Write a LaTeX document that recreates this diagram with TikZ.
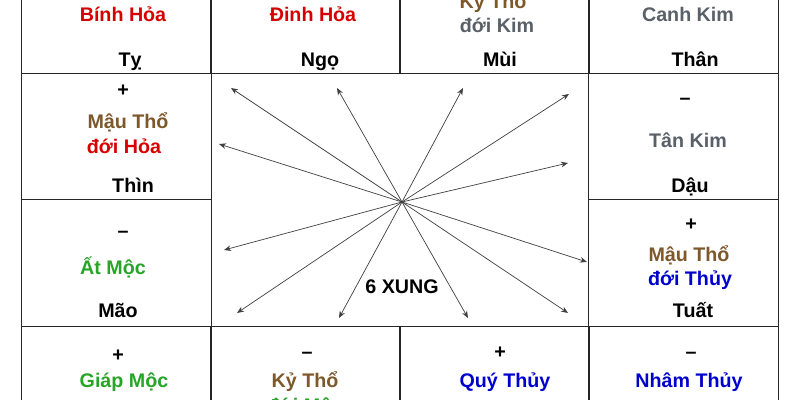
\documentclass[tikz,border=0pt]{standalone}
\usepackage{fontspec}
\setmainfont{Liberation Sans}
\usepackage{xcolor}
\usetikzlibrary{arrows.meta, positioning}
\definecolor{hoa}{RGB}{215,0,0}
\definecolor{tho}{RGB}{125,88,42}
\definecolor{moc}{RGB}{40,165,40}
\definecolor{thuy}{RGB}{0,0,205}
\definecolor{kim}{RGB}{90,96,104}
\tikzset{%
	every cell/.style={
		draw=black!85,
		line width=0.7pt,
		minimum width=4.725cm,
		minimum height=3.1625cm,
		inner sep=0pt
	},
	cell text/.style={
		font=\fontsize{14}{17}\selectfont\bfseries,
		anchor=base,
		inner sep=0pt
	},
	xung arrow/.style={
		draw=black!75,
		line width=0.5pt,
		-{Stealth[length=5pt,width=4pt]}
	},
}

\begin{document}
\begin{tikzpicture}[x=0.025cm, y=-0.025cm]
			\useasboundingbox (0,0) rectangle (800,400);
			\fill[white] (0,0) rectangle (800,400);
			\clip (0,0) rectangle (800,400);
			
			% Top row of cells
			\node[every cell] (ty) at (116.5,10) {};
			\node[every cell] (ngo) at (305.5,10) {};
			\node[every cell] (mui) at (494.5,10) {};
			\node[every cell] (than) at (683.5,10) {};
			% Side cells
			\node[every cell] (thin) at (116.5,136.5) {};
			\node[every cell] (dau) at (683.5,136.5) {};
			\node[every cell] (mao) at (116.5,263) {};
			\node[every cell] (tuat) at (683.5,263) {};
			% Bottom row of cells
			\node[every cell] (dan) at (116.5,389.5) {};
			\node[every cell] (suu) at (305.5,389.5) {};
			\node[every cell] (ti) at (494.5,389.5) {};
			\node[every cell] (hoi) at (683.5,389.5) {};
			
			% Texts of the top row
			\node[cell text, hoa] (ty-can) at (123,22) {Bính Hỏa};
			\node[cell text] (ty-chi) at (130,67) {Tỵ};
			\node[cell text, hoa] (ngo-can) at (313,22) {Đinh Hỏa};
			\node[cell text] (ngo-chi) at (320,67) {Ngọ};
			\node[cell text, tho] (mui-can) at (493,9) {Kỷ Thổ};
			\node[cell text, kim] (mui-doi) at (497,33) {đới Kim};
			\node[cell text] (mui-chi) at (500,67) {Mùi};
			\node[cell text, kim] (than-can) at (688,22) {Canh Kim};
			\node[cell text] (than-chi) at (695,67) {Thân};
			
			% Texts of the side cells
			\node[cell text] (thin-dau) at (123,97) {+};
			\node[cell text, tho] (thin-can) at (128,129) {Mậu Thổ};
			\node[cell text, hoa] (thin-doi) at (124,154) {đới Hỏa};
			\node[cell text] (thin-chi) at (133,192) {Thìn};
			\node[cell text] (dau-dau) at (685,105) {–};
			\node[cell text, kim] (dau-can) at (688,147) {Tân Kim};
			\node[cell text] (dau-chi) at (690,192) {Dậu};
			\node[cell text] (mao-dau) at (123,237) {–};
			\node[cell text, moc] (mao-can) at (113,274) {Ất Mộc};
			\node[cell text] (mao-chi) at (118,317) {Mão};
			\node[cell text] (tuat-dau) at (691,230) {+};
			\node[cell text, tho] (tuat-can) at (689,261) {Mậu Thổ};
			\node[cell text, thuy] (tuat-doi) at (690,285) {đới Thủy};
			\node[cell text] (tuat-chi) at (693,317) {Tuất};
			
			% Texts of the bottom row
			\node[cell text] (dan-dau) at (118,361) {+};
			\node[cell text, moc] (dan-can) at (124,387) {Giáp Mộc};
			\node[cell text] (suu-dau) at (307,358) {–};
			\node[cell text, tho] (suu-can) at (305,387) {Kỷ Thổ};
			\node[cell text, moc] (suu-doi) at (305,412) {đới Mộc};
			\node[cell text] (ti-dau) at (500,358) {+};
			\node[cell text, thuy] (ti-can) at (505,387) {Quý Thủy};
			\node[cell text] (hoi-dau) at (691,358) {–};
			\node[cell text, thuy] (hoi-can) at (689,387) {Nhâm Thủy};
			
			% The six clashes, all through one point
			\coordinate (hub) at (402,202);
			\coordinate (to-ty) at (231,88);
			\coordinate (to-ngo) at (337,88);
			\coordinate (to-mui) at (463,88);
			\coordinate (to-than) at (569,94);
			\coordinate (to-thin) at (219,144);
			\coordinate (to-dau) at (568,163);
			\coordinate (to-mao) at (224,250);
			\coordinate (to-tuat) at (587,262);
			\coordinate (to-dan) at (237,313);
			\coordinate (to-suu) at (339,318);
			\coordinate (to-ti) at (468,318);
			\coordinate (to-hoi) at (568,313);
			\foreach \e in {ty,ngo,mui,than,thin,dau,mao,tuat,dan,suu,ti,hoi}
				\draw[xung arrow] (hub) -- (to-\e);
			\node[cell text] (xung) at (402,293) {6 XUNG};
		\end{tikzpicture}
\end{document}
